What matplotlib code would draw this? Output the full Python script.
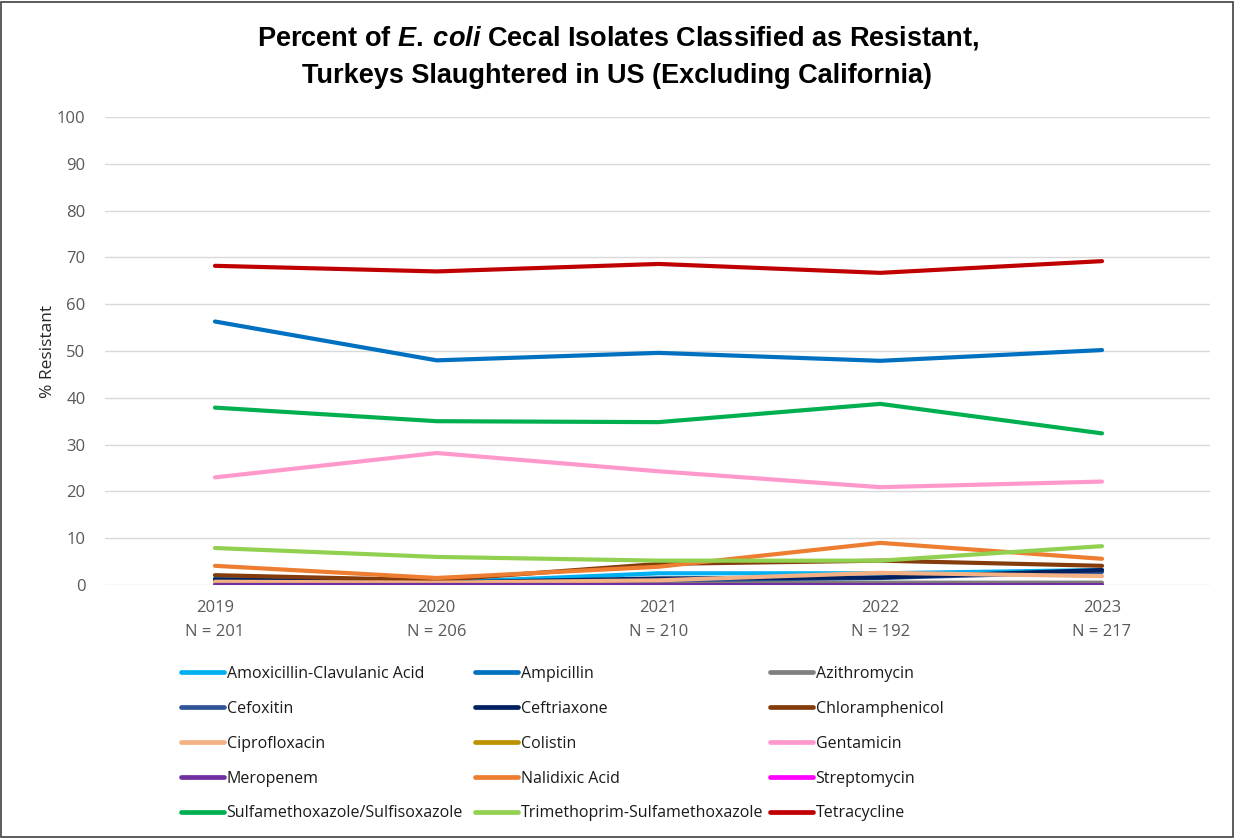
import matplotlib.pyplot as plt
import numpy as np
from matplotlib.patches import Rectangle

years = ["2019", "2020", "2021", "2022", "2023"]
n_isolates = [201, 206, 210, 192, 217]

drugs = ["Amoxicillin-Clavulanic Acid", "Ampicillin", "Azithromycin",
         "Cefoxitin", "Ceftriaxone", "Chloramphenicol",
         "Ciprofloxacin", "Colistin", "Gentamicin",
         "Meropenem", "Nalidixic Acid", "Streptomycin",
         "Sulfamethoxazole/Sulfisoxazole", "Trimethoprim-Sulfamethoxazole", "Tetracycline"]

colors = ["#00b0f0", "#0070c0", "#7f7f7f",
          "#2f5597", "#002060", "#843c0c",
          "#f4b183", "#bf9000", "#ff99cc",
          "#7030a0", "#ed7d31", "#ff00ff",
          "#00b050", "#92d050", "#c00000"]

amox_clav = [1.4, 0.5, 2.5, 2.5, 3.2]
ampicillin = [56.3, 48.0, 49.6, 47.9, 50.2]
azithromycin = [0.5, 0.0, 0.5, 0.5, 0.5]
cefoxitin = [1.0, 0.5, 1.0, 1.5, 2.8]
ceftriaxone = [1.2, 0.5, 1.4, 1.6, 3.2]
chloramphenicol = [2.1, 1.0, 4.5, 5.2, 4.1]
ciprofloxacin = [0.7, 0.5, 1.0, 2.6, 1.9]
colistin = [0.0, 0.0, 0.0, 0.0, 0.0]
gentamicin = [23.0, 28.2, 24.3, 20.9, 22.1]
meropenem = [0.0, 0.0, 0.0, 0.0, 0.0]
nalidixic = [4.1, 1.5, 3.9, 9.0, 5.6]
streptomycin = [np.nan] * 5  # not reported
sulfa = [37.9, 35.0, 34.8, 38.7, 32.4]
trim_sulfa = [7.9, 6.0, 5.2, 5.2, 8.3]
tetracycline = [68.2, 67.0, 68.6, 66.7, 69.2]

series = [amox_clav, ampicillin, azithromycin, cefoxitin, ceftriaxone,
          chloramphenicol, ciprofloxacin, colistin, gentamicin, meropenem,
          nalidixic, streptomycin, sulfa, trim_sulfa, tetracycline]

plt.rcParams['font.family'] = ['Open Sans', 'DejaVu Sans']
plt.rcParams['mathtext.fontset'] = 'custom'
plt.rcParams['mathtext.it'] = 'Liberation Sans:italic:bold'
plt.rcParams['mathtext.rm'] = 'Liberation Sans:bold'

W, H = 1235, 838
fig = plt.figure(figsize=(W / 100, H / 100), dpi=100)
ax = fig.add_axes([105 / W, 1 - 585 / H, 1105 / W, 468 / H])

x = np.arange(len(years))
handles = {}
for name, vals, c in zip(drugs, series, colors):
    ln, = ax.plot(x, vals, color=c, lw=3.0, solid_capstyle='round', label=name)
    handles[name] = ln

ax.set_xlim(-0.496, 4.487)
ax.set_ylim(0, 100)
ax.set_yticks(range(0, 101, 10))
ax.set_xticks(x)
ax.set_xticklabels([f"{y}\nN = {n}" for y, n in zip(years, n_isolates)],
                   linespacing=1.65)
ax.tick_params(axis='both', length=0, labelsize=12, colors='#595959')
ax.tick_params(axis='y', pad=14)
ax.tick_params(axis='x', pad=11)
ax.grid(axis='y', color='#d9d9d9', lw=1)
ax.set_axisbelow(True)
for s in ax.spines.values():
    s.set_visible(False)
ax.set_ylabel("% Resistant", fontsize=12.5, color='#262626', labelpad=1)

title_font = ['Liberation Sans', 'DejaVu Sans']
fig.text(0.5, 1 - 38 / H, "Percent of $E.\\:coli$ Cecal Isolates Classified as Resistant,",
         ha='center', va='center', fontsize=19.5, fontweight='bold', family=title_font)
fig.text(0.5, 1 - 76 / H, "Turkeys Slaughtered in US (Excluding California)",
         ha='center', va='center', fontsize=19.5, fontweight='bold', family=title_font)

# legend: three columns, filled row by row
col_x = [181, 475, 770]
for col in range(3):
    names = [drugs[row * 3 + col] for row in range(5)]
    leg = fig.legend([handles[d] for d in names], names, loc='upper left',
                     bbox_to_anchor=(col_x[col] / W, 1 - 666 / H),
                     frameon=False, fontsize=11.5, handlelength=2.7,
                     handletextpad=0.15, labelspacing=1.18,
                     borderpad=0, borderaxespad=0)
    for t in leg.get_texts():
        t.set_color('#1a1a1a')
    for h in leg.legend_handles:
        h.set_linewidth(3.4)

fig.add_artist(Rectangle((0.001, 0.001), 0.997, 0.997, transform=fig.transFigure,
                         fill=False, ec='#404040', lw=1.2))

fig.savefig("out.png", dpi=100)
